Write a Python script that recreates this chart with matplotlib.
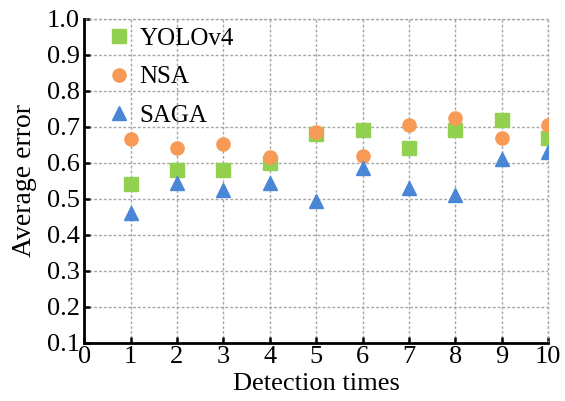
import matplotlib.pyplot as plt

plt.rcParams['font.family'] = ['Liberation Serif', 'DejaVu Serif']

# detection rounds and average error of each method
times = [1, 2, 3, 4, 5, 6, 7, 8, 9, 10]
yolov4 = [0.54, 0.58, 0.58, 0.60, 0.68, 0.69, 0.64, 0.69, 0.72, 0.67]
nsa = [0.667, 0.64, 0.653, 0.617, 0.685, 0.62, 0.706, 0.725, 0.669, 0.706]
saga = [0.46, 0.545, 0.525, 0.545, 0.495, 0.585, 0.53, 0.51, 0.61, 0.63]

fig = plt.figure(figsize=(5.65, 4.01), dpi=100)
ax = fig.add_axes([0.149, 0.145, 0.821, 0.808])

ax.plot(times, yolov4, 's', color='#92D050', markersize=9.5, label='YOLOv4', zorder=3)
ax.plot(times, nsa, 'o', color='#F79A55', markersize=9.5, label='NSA', zorder=3)
ax.plot(times, saga, '^', color='#4A86D6', markersize=9.5, label='SAGA', zorder=3)

ax.set_xlim(0, 10)
ax.set_ylim(0.1, 1.0)
ax.set_xticks(range(0, 11))
ax.set_yticks([0.1 * i for i in range(1, 11)])
ax.set_yticklabels(['%.1f' % (0.1 * i) for i in range(1, 11)])

ax.grid(True, color='#A6A6A6', linestyle=(0, (2, 1.5)), linewidth=1.0, zorder=1)
ax.set_axisbelow(True)

for side in ['top', 'right']:
    ax.spines[side].set_visible(False)
for side in ['left', 'bottom']:
    ax.spines[side].set_linewidth(2.0)
    ax.spines[side].set_zorder(4)

# dotted border lines where the top and right spines would be
ax.axhline(1.0, color='#A6A6A6', linestyle=(0, (2, 1.5)), linewidth=1.0, zorder=1, clip_on=False)
ax.axvline(10, color='#A6A6A6', linestyle=(0, (2, 1.5)), linewidth=1.0, zorder=1, clip_on=False)

ax.tick_params(direction='in', length=4, width=1.8, labelsize=19, pad=3)
ax.tick_params(axis='x', pad=2)

ax.set_xlabel('Detection times', fontsize=19, labelpad=4)
ax.set_ylabel('Average error', fontsize=20, labelpad=7)

ax.legend(loc='upper left', frameon=False, fontsize=18, handletextpad=0.35,
          labelspacing=0.65, borderaxespad=0.0, handlelength=0.9,
          bbox_to_anchor=(0.03, 1.005))

fig.savefig('out.png', dpi=100)
